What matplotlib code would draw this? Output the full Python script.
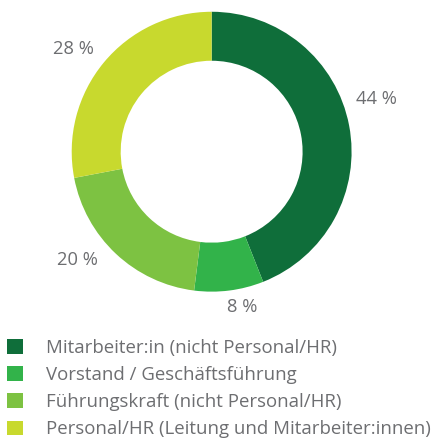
import numpy as np
import matplotlib
matplotlib.use("Agg")
import matplotlib.pyplot as plt
import matplotlib.patches as mpatches

# ── Data ──────────────────────────────────────────────────────────────────────
categories = [
    "Mitarbeiter:in (nicht Personal/HR)",
    "Vorstand / Geschäftsführung",
    "Führungskraft (nicht Personal/HR)",
    "Personal/HR (Leitung und Mitarbeiter:innen)",
]
shares = [44, 8, 20, 28]
pct_labels = ["44 %", "8 %", "20 %", "28 %"]

# ── Style ─────────────────────────────────────────────────────────────────────
COLORS = ["#0F6E3A", "#32B34A", "#7DC242", "#C8D92E"]
TXT = "#6D6E71"
LABEL_NUDGE = [7, 4, -8, 3]          # degrees, to match original label placement
LABEL_R = [1.24, 1.13, 1.23, 1.23]   # label distance (in radii)

plt.rcParams["font.family"] = ["Open Sans", "DejaVu Sans"]

fig = plt.figure(figsize=(4.38, 4.41), dpi=100, facecolor="white")
ax = fig.add_axes([0.1637, 0.3385, 0.639, 0.635])

wedges, _ = ax.pie(shares, colors=COLORS, startangle=90, counterclock=False,
                   radius=1.0, wedgeprops=dict(width=0.35, edgecolor="none"))
ax.set_xlim(-1, 1)
ax.set_ylim(-1, 1)
ax.set_aspect("equal")
ax.axis("off")

for w, lbl, nudge, r in zip(wedges, pct_labels, LABEL_NUDGE, LABEL_R):
    mid = np.radians((w.theta1 + w.theta2) / 2 + nudge)
    ax.text(r * np.cos(mid), r * np.sin(mid), lbl, ha="center", va="center",
            fontsize=13.2, color=TXT, clip_on=False)

handles = [mpatches.Patch(facecolor=c, edgecolor="none", label=l)
           for c, l in zip(COLORS, categories)]
fig.legend(handles=handles, loc="upper left", bbox_to_anchor=(0.004, 0.245),
           frameon=False, fontsize=13.4, labelcolor=TXT,
           handlelength=0.86, handleheight=0.86, handletextpad=1.2,
           labelspacing=0.5, borderpad=0.3, borderaxespad=0.0)

fig.savefig("out.png", dpi=100, facecolor="white")
